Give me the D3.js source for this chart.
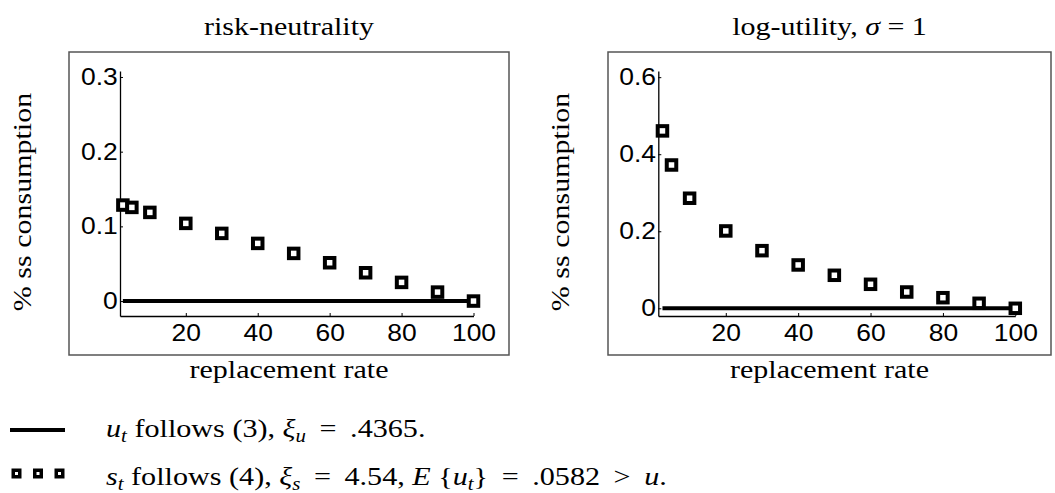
<!DOCTYPE html>
<html>
<head>
<meta charset="utf-8">
<script src="https://cdn.jsdelivr.net/npm/d3@7"></script>
<style>
  body { margin: 0; background: #fff; }
  .tick text { font-family: "Liberation Sans", Arial, sans-serif; }
  .serif { font-family: "Liberation Serif", "DejaVu Serif", serif; }
</style>
</head>
<body>
<svg id="chart" width="1055" height="493"></svg>
<script>
// replacement rates (x)
var rates = [2.5, 5, 10, 20, 30, 40, 50, 60, 70, 80, 90, 100];
// welfare gain, % of ss consumption, s_t follows (4)
var riskNeutral = [0.1285, 0.1254, 0.1187, 0.104, 0.0906, 0.0772, 0.0638, 0.0513, 0.0379, 0.025, 0.012, 0];
var logUtility = [0.4605, 0.372, 0.2857, 0.2008, 0.1496, 0.1125, 0.0857, 0.0623, 0.0423, 0.0275, 0.013, 0];
// u_t follows (3): flat at zero
var baseline = [0, 0];
var baseRates = [2.5, 100];

var xTicks = [20, 40, 60, 80, 100];
var yTicksLeft = [0, 0.1, 0.2, 0.3];
var yTicksRight = [0, 0.2, 0.4, 0.6];

var svg = d3.select("#chart");
var SX = 1.2; // serif text is stretched a bit to look like the TeX font

var panels = [
  {title: "risk-neutrality", values: riskNeutral, yTicks: yTicksLeft,
   box: [69, 52, 440, 303], xDom: [1.7, 100], xRange: [120, 473.5], yDom: [-0.02, 0.308], ylabX: 22},
  {title: "log-utility", values: logUtility, yTicks: yTicksRight,
   box: [608, 52, 443, 303], xDom: [1.35, 100], xRange: [658.3, 1015.3], yDom: [-0.02, 0.616], ylabX: 560}
];

function serifText(sel, x, y, size, sx){
  return sel.append("text").attr("class", "serif")
    .attr("transform", "translate(" + x + "," + y + ") scale(" + (sx || SX) + ",1)")
    .attr("font-size", size);
}

panels.forEach(function(p, i){
  var x = d3.scaleLinear().domain(p.xDom).range(p.xRange);
  var y = d3.scaleLinear().domain(p.yDom).range([316, 71]);
  var g = svg.append("g");

  // frame
  g.append("rect")
    .attr("x", p.box[0]).attr("y", p.box[1])
    .attr("width", p.box[2]).attr("height", p.box[3])
    .attr("fill", "none").attr("stroke", "#555").attr("stroke-width", 1.5);

  var cx = p.box[0] + p.box[2] / 2;

  // title
  var t = serifText(g, cx, 35, 25).attr("text-anchor", "middle");
  if(i == 0){ t.text(p.title) }
  else {
    t.append("tspan").text("log-utility, ");
    t.append("tspan").attr("font-style", "italic").text("σ");
    t.append("tspan").text(" = 1");
  }

  // axes
  var yAxis = d3.axisLeft(y).tickValues(p.yTicks)
    .tickFormat(function(d){ return d == 0 ? "0" : d3.format(".1f")(d) })
    .tickSizeInner(-3).tickSizeOuter(0).tickPadding(2);
  var xAxis = d3.axisBottom(x).tickValues(xTicks)
    .tickSizeInner(-3).tickSizeOuter(0).tickPadding(8);

  var ya = g.append("g").attr("transform", "translate(" + p.xRange[0] + ",0)").call(yAxis);
  var xa = g.append("g").attr("transform", "translate(0,316)").call(xAxis);
  [ya, xa].forEach(function(a){
    a.select(".domain").attr("stroke", "#000").attr("stroke-width", 1.3);
    a.selectAll(".tick line").attr("stroke", "#000");
    a.selectAll(".tick text").attr("font-size", 23).attr("fill", "#000")
      .attr("transform", "scale(1.15,1)");
  });
  xa.selectAll(".tick text").attr("dy", "0.75em");

  // zero line, u_t follows (3)
  g.append("path")
    .datum(baseRates.map(function(r, k){ return [r, baseline[k]] }))
    .attr("d", d3.line().x(function(d){ return x(d[0]) }).y(function(d){ return y(d[1]) }))
    .attr("stroke", "#000").attr("stroke-width", 4).attr("fill", "none");

  // squares, s_t follows (4)
  g.selectAll("rect.pt").data(rates).enter().append("rect")
    .attr("class", "pt")
    .attr("x", function(d){ return x(d) - 4.75 })
    .attr("y", function(d, k){ return y(p.values[k]) - 4.75 })
    .attr("width", 9.5).attr("height", 9.5)
    .attr("fill", "#fff").attr("stroke", "#000").attr("stroke-width", 4);

  // axis labels
  serifText(g, cx, 378, 25).attr("text-anchor", "middle").text("replacement rate");
  g.append("text").attr("class", "serif")
    .attr("transform", "translate(" + p.ylabX + ",202) rotate(-90) scale(" + SX + ",1)")
    .attr("text-anchor", "middle").attr("dy", "0.35em").attr("font-size", 25)
    .text("% ss consumption");
});

// legend
var leg = svg.append("g");
leg.append("line").attr("x1", 10).attr("x2", 65).attr("y1", 430).attr("y2", 430)
  .attr("stroke", "#000").attr("stroke-width", 4);
var sq = [16.5, 38, 59.5];
leg.selectAll("rect").data(sq).enter().append("rect")
  .attr("x", function(d){ return d - 3.25 }).attr("y", 470.25)
  .attr("width", 6.5).attr("height", 6.5)
  .attr("fill", "#fff").attr("stroke", "#000").attr("stroke-width", 3.5);

function addMath(textSel, parts){
  parts.forEach(function(p){
    var ts = textSel.append("tspan").text(p[0]);
    if(p[1] == "i") ts.attr("font-style", "italic");
    if(p[1] == "sub") ts.attr("font-style", "italic").attr("font-size", 18).attr("baseline-shift", "-25%");
  });
}
var eq = "\u2009=\u2009";
var l1 = serifText(leg, 106, 437, 26, 1.16);
addMath(l1, [["u","i"],["t","sub"],[" follows (3), "],["ξ","i"],["u","sub"],[" " + eq + " .4365."]]);
var l2 = serifText(leg, 106, 485, 26, 1.16);
addMath(l2, [["s","i"],["t","sub"],[" follows (4), "],["ξ","i"],["s","sub"],[" " + eq + " 4.54, "],["E","i"],[" {"],["u","i"],["t","sub"],["} " + eq + " .0582 \u2009>\u2009 "],["u","i"],["."]]);
</script>
</body>
</html>
